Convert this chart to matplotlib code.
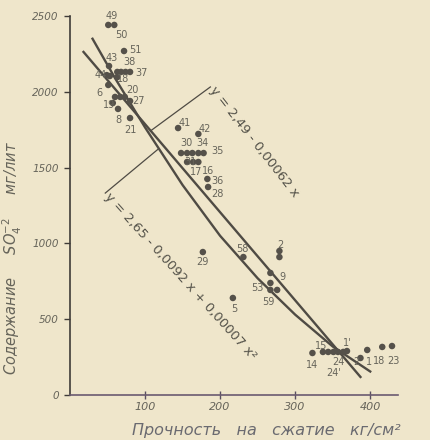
import matplotlib
matplotlib.use("Agg")
import matplotlib.pyplot as plt

# ---- data (strength kg/cm^2, sulfate SO4 mg/l) ----
strength = [51, 59, 72, 52, 49, 53, 63, 68, 74, 80, 63, 51, 60, 67, 73, 57, 80, 64, 80,
            144, 171, 148, 156, 163, 171, 178, 156, 164, 171, 183, 184,
            177, 231, 279, 279, 267, 267, 267, 276, 217,
            323, 337, 344, 351, 357, 364, 369, 396, 387, 416, 429]
sulfate = [2441, 2441, 2269, 2170, 2110, 2104, 2131, 2131, 2131, 2131, 2097, 2045, 1966, 1966, 1966, 1926, 1939, 1887, 1827,
           1761, 1722, 1596, 1596, 1596, 1596, 1596, 1537, 1537, 1537, 1425, 1372,
           943, 910, 950, 910, 805, 739, 693, 693, 640,
           277, 284, 284, 284, 284, 284, 290, 297, 244, 317, 323]

# fitted line y = 2,49 - 0,00062 x
lin_x = [18, 387]
lin_y = [2263, 119]
# fitted curve y = 2,65 - 0,0092 x + 0,00007 x^2
quad_x = [30, 60, 100, 150, 200, 250, 300, 350, 400]
quad_y = [2350, 2090, 1765, 1385, 1050, 770, 530, 320, 155]

# point labels: text, x, y
point_labels = [("49", 55, 2500), ("50", 69, 2375), ("51", 87, 2276), ("43", 56, 2223),
                ("38", 79, 2197), ("37", 95, 2124), ("44", 41, 2111), ("18", 71, 2084),
                ("6", 39, 1992), ("20", 83, 2012), ("19", 52, 1913), ("27", 91, 1939),
                ("8", 64, 1814), ("21", 80, 1748),
                ("41", 153, 1794), ("42", 180, 1755), ("30", 155, 1662), ("34", 177, 1662),
                ("35", 196, 1609), ("31", 160, 1537), ("17", 168, 1471), ("16", 184, 1478),
                ("36", 196, 1412), ("28", 196, 1326),
                ("29", 176, 877), ("58", 229, 963), ("2", 280, 990), ("9", 283, 778),
                ("53", 249, 706), ("59", 264, 613), ("5", 219, 567),
                ("14", 323, 198), ("15", 335, 323), ("1'", 369, 343), ("24", 357, 218),
                ("24'", 351, 145), ("2", 382, 218), ("1", 398, 218), ("18", 412, 224),
                ("23", 431, 224)]

x_ticks = [100, 200, 300, 400]
y_ticks = [0, 500, 1000, 1500, 2000, 2500]

paper = "#efe6cb"
ink = "#4f4b44"
txt = "#66645a"

fig = plt.figure(figsize=(4.31, 4.40), dpi=100, facecolor=paper)
ax = fig.add_axes([70 / 431, 45 / 440, 328 / 431, 379 / 440], facecolor=paper)
ax.set_xlim(0, 437)
ax.set_ylim(0, 2500)

ax.plot(lin_x, lin_y, color=ink, lw=1.7, zorder=2)
ax.plot(quad_x, quad_y, color=ink, lw=1.7, zorder=2)
ax.scatter(strength, sulfate, s=22, color="#55514a", edgecolors="none", zorder=3)

for t, x, y in point_labels:
    ax.text(x, y, t, fontsize=7, color=txt, ha="center", va="center", zorder=4)

# leader lines and equation labels
ax.plot([107, 187], [1741, 2032], color=ink, lw=0.9)
ax.plot([47, 117], [1332, 1620], color=ink, lw=0.9)
ax.text(190, 2025, "y = 2,49 - 0,00062 x", fontsize=9.5, color="#55534a",
        rotation=-52, rotation_mode="anchor", ha="left", va="center")
ax.text(49, 1320, "y = 2,65 - 0,0092 x + 0,00007 x²", fontsize=9.5, color="#55534a",
        rotation=-48, rotation_mode="anchor", ha="left", va="center")

for s in ["top", "right"]:
    ax.spines[s].set_visible(False)
ax.spines["left"].set_color("#3f3c38")
ax.spines["bottom"].set_color("#6a5a70")
ax.spines["left"].set_linewidth(1.2)
ax.spines["bottom"].set_linewidth(1.2)

ax.set_xticks(x_ticks)
ax.set_xticklabels([str(v) for v in x_ticks], fontsize=8, style="italic", color=txt)
ax.set_yticks(y_ticks)
ax.set_yticklabels([str(v) for v in y_ticks], fontsize=7.5, style="italic", color=txt)
ax.tick_params(axis="x", direction="inout", length=6, width=1, colors="#5a5060", pad=2, labelcolor=txt)
ax.tick_params(axis="y", direction="out", length=4, width=1, colors="#3f3c38", pad=4, labelcolor=txt)

ax.set_xlabel("Прочность   на   сжатие   кг/см²", fontsize=11.5, style="italic", color="#6a6a70")
ax.xaxis.set_label_coords((266 - 70) / 328, -0.075)
ax.set_ylabel("Содержание     SO$_4^{-2}$     мг/лит", fontsize=10.5, style="italic", color="#66645a")
ax.yaxis.set_label_coords((24 - 70) / 328, (395 - 258) / 379)

fig.savefig("out.png", dpi=100, facecolor=paper)
